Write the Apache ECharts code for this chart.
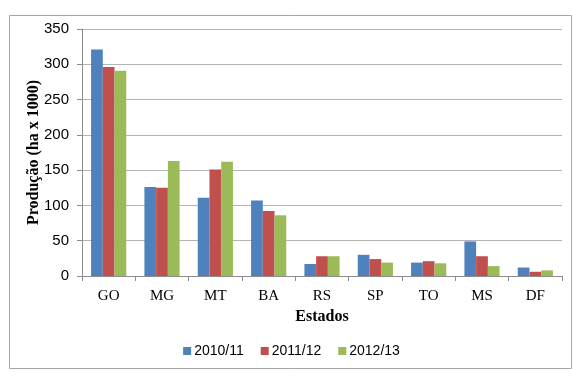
<!DOCTYPE html>
<html><head><meta charset="utf-8">
<script src="https://cdn.jsdelivr.net/npm/echarts@6/dist/echarts.min.js"></script>
<style>html,body{margin:0;padding:0;background:#fff}#c{width:583px;height:377px}</style>
</head><body><div id="c"></div>
<script>
const categories = ['GO','MG','MT','BA','RS','SP','TO','MS','DF'];
const s2010 = [321, 126, 111, 107, 17, 30, 19, 49, 12];
const s2011 = [296, 125, 151, 92, 28, 24, 21, 28, 6];
const s2012 = [291, 163, 162, 86, 28, 19, 18, 14, 8];
const seriesNames = ['2010/11','2011/12','2012/13'];
const colors = ['#4F81BD','#C0504D','#9BBB59'];

const chart = echarts.init(document.getElementById('c'), null, {renderer:'canvas'});
const mk = (name, data, color) => ({
  name, type:'bar', data, barGap:'0%', barCategoryGap:'34%',
  itemStyle:{color}
});
chart.setOption({
  animation:false,
  color: colors,
  graphic:[{type:'rect', shape:{x:9.5,y:15.5,width:562,height:353}, style:{fill:'none', stroke:'#a6a6a6', lineWidth:1}, silent:true}],
  grid:{left:82, right:21, top:29, bottom:101, containLabel:false},
  legend:{
    bottom:14, left:'center', itemWidth:8, itemHeight:8, itemGap:17,
    icon:'rect',
    textStyle:{fontFamily:'Liberation Sans', fontSize:14, color:'#000', padding:[0,0,0,-2]},
    data: seriesNames
  },
  xAxis:{
    type:'category', data:categories,
    name:'Estados', nameLocation:'middle', nameGap:33, nameMoveOverlap:false,
    nameTextStyle:{fontFamily:'Liberation Serif', fontWeight:'bold', fontSize:16, color:'#000'},
    axisLine:{lineStyle:{color:'#8c8c8c'}},
    axisTick:{show:true, length:5, lineStyle:{color:'#8c8c8c'}},
    axisLabel:{fontFamily:'Liberation Serif', fontSize:15, color:'#000', margin:13}
  },
  yAxis:{
    type:'value', min:0, max:350, interval:50,
    name:'Produção (ha x 1000)', nameLocation:'middle', nameGap:40, nameMoveOverlap:false,
    nameTextStyle:{fontFamily:'Liberation Serif', fontWeight:'bold', fontSize:16, color:'#000'},
    axisLine:{show:true, lineStyle:{color:'#8c8c8c'}},
    axisTick:{show:true, length:5, lineStyle:{color:'#8c8c8c'}},
    axisLabel:{fontFamily:'Liberation Sans', fontSize:15, color:'#000', margin:13},
    splitLine:{lineStyle:{color:'#b4b4b4'}}
  },
  series:[mk(seriesNames[0], s2010, colors[0]), mk(seriesNames[1], s2011, colors[1]), mk(seriesNames[2], s2012, colors[2])]
});
</script></body></html>
